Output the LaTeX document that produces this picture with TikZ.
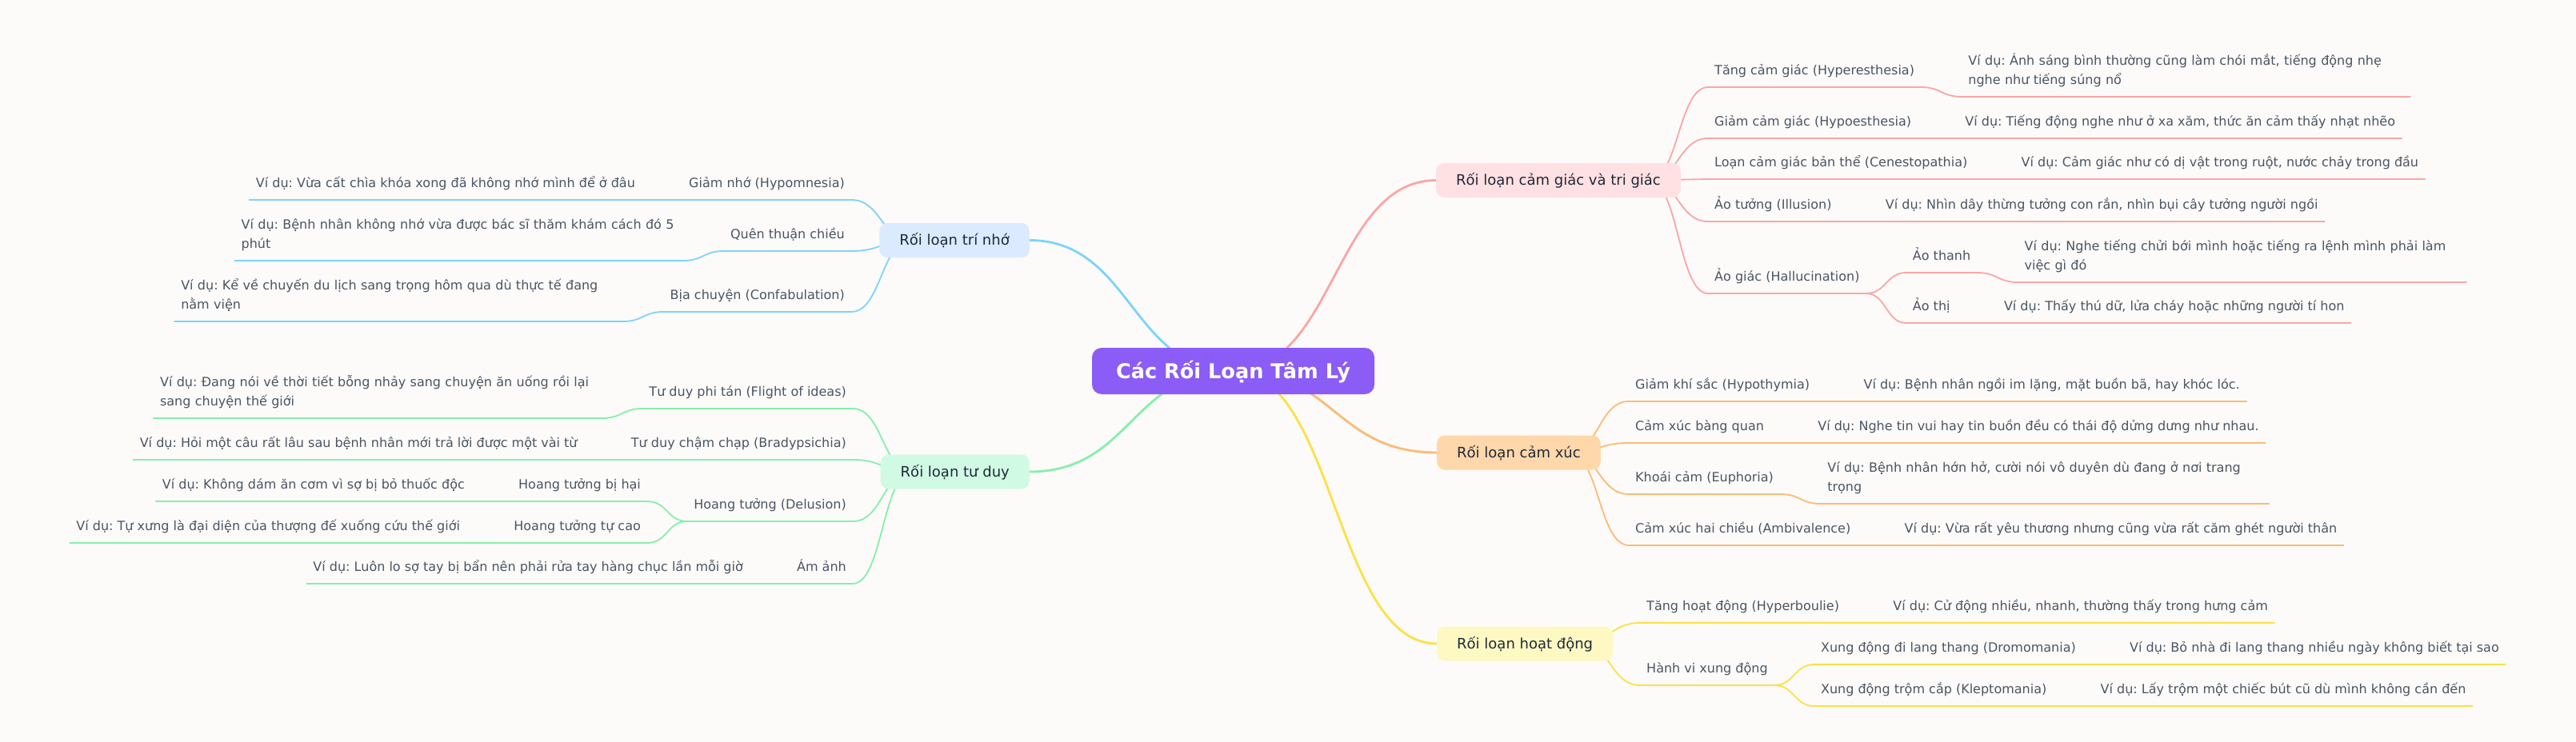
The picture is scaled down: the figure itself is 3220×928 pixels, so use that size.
\documentclass[tikz,border=0pt]{standalone}
\usepackage{fontspec}
\setmainfont{DejaVu Sans}
\usetikzlibrary{calc}
\frenchspacing
\definecolor{bgc}{HTML}{FCFBF9}
\definecolor{rootF}{HTML}{8B5CF6}
\definecolor{pinkF}{HTML}{FFE1E4}
\definecolor{pinkL}{HTML}{FCA5A5}
\definecolor{orF}{HTML}{FED7AA}
\definecolor{orL}{HTML}{FDBA74}
\definecolor{yeF}{HTML}{FEF9C3}
\definecolor{yeL}{HTML}{FDE047}
\definecolor{blF}{HTML}{DBEAFE}
\definecolor{blL}{HTML}{7DD3FC}
\definecolor{grF}{HTML}{D1FAE5}
\definecolor{grL}{HTML}{86EFAC}
\definecolor{darkT}{HTML}{1F2937}
\definecolor{leafT}{HTML}{4B5563}
\pgfdeclarelayer{bg}
\pgfdeclarelayer{lines}
\pgfsetlayers{bg,lines,main}
\newcommand\leaffont{\frenchspacing\fontsize{16}{24}\selectfont}
\newcommand\branchfont{\fontsize{18}{22}\selectfont}
\newcommand\titlefont{\bfseries\fontsize{25.6}{30}\selectfont}
\newcommand\mylk[3]{\draw[ln,#1] (#2) to[hlink] (#3);}
\newcommand\myun[2]{\draw[ln,#1] (#2.south west) -- (#2.south east);}
\begin{document}
\begin{tikzpicture}[x=1pt,y=-1pt,
  hlink/.style={to path={let \p1=(\tikztostart), \p2=(\tikztotarget) in
     .. controls ({(\x1+\x2)/2},\y1) and ({(\x1+\x2)/2},\y2) .. (\tikztotarget)}},
  rl/.style={line width=2.8pt, line cap=round},
  ln/.style={line width=1.8pt, line cap=round},
  rootbox/.style={rounded corners=12pt, fill=rootF, text=white, font=\titlefont,
     minimum height=58pt, inner xsep=30pt, inner ysep=0pt, text height=24pt, text depth=5.4pt},
  branch/.style={rounded corners=10pt, text=darkT, font=\branchfont,
     minimum height=43pt, inner xsep=25pt, inner ysep=0pt, text height=16pt, text depth=4pt},
  leaf/.style={inner xsep=8pt, inner ysep=0pt, text depth=15pt, text=leafT, font=\leaffont},
  leafR/.style={leaf, anchor=south west},
  leafL/.style={leaf, anchor=south east},
  two/.style={text width=544pt, text depth=39pt, align=left}
]
\begin{pgfonlayer}{bg}
\fill[bgc] (0,0) rectangle (3220,928);
\end{pgfonlayer}
\useasboundingbox (0,0) rectangle (3220,928);

% root
\node[rootbox] (root) at (1541.5,464) {Các Rối Loạn Tâm Lý};

% ---------- branch 1 ----------
\node[branch, fill=pinkF, anchor=west] (b1) at (1795,225.5) {Rối loạn cảm giác và tri giác};
\node[leafR] (c11) at (2135,109) {Tăng cảm giác (Hyperesthesia)};
\node[leafR,two] (e11) at ($(c11.south east)+(51,12)$) {Ví dụ: Ánh sáng bình thường cũng làm chói mắt, tiếng động nhẹ\\nghe như tiếng súng nổ};
\node[leafR] (c12) at (2135,173) {Giảm cảm giác (Hypoesthesia)};
\node[leafR] (e12) at ($(c12.south east)+(51,0)$) {Ví dụ: Tiếng động nghe như ở xa xăm, thức ăn cảm thấy nhạt nhẽo};
\node[leafR] (c13) at (2135,224) {Loạn cảm giác bản thể (Cenestopathia)};
\node[leafR] (e13) at ($(c13.south east)+(51,0)$) {Ví dụ: Cảm giác như có dị vật trong ruột, nước chảy trong đầu};
\node[leafR] (c14) at (2135,277) {Ảo tưởng (Illusion)};
\node[leafR] (e14) at ($(c14.south east)+(51,0)$) {Ví dụ: Nhìn dây thừng tưởng con rắn, nhìn bụi cây tưởng người ngồi};
\node[leafR] (c15) at (2135,367) {Ảo giác (Hallucination)};
\node[leafR] (c151) at ($(c15.south east)+(50,-26)$) {Ảo thanh};
\node[leafR,two] (e151) at ($(c151.south east)+(51,12)$) {Ví dụ: Nghe tiếng chửi bới mình hoặc tiếng ra lệnh mình phải làm\\việc gì đó};
\node[leafR] (c152) at ($(c15.south east)+(50,37)$) {Ảo thị};
\node[leafR] (e152) at ($(c152.south east)+(51,0)$) {Ví dụ: Thấy thú dữ, lửa cháy hoặc những người tí hon};

% ---------- branch 2 ----------
\node[branch, fill=orF, anchor=west] (b2) at (1796,566) {Rối loạn cảm xúc};
\node[leafR] (c21) at (2036,502) {Giảm khí sắc (Hypothymia)};
\node[leafR] (e21) at ($(c21.south east)+(51,0)$) {Ví dụ: Bệnh nhân ngồi im lặng, mặt buồn bã, hay khóc lóc.};
\node[leafR] (c22) at (2036,554) {Cảm xúc bàng quan};
\node[leafR] (e22) at ($(c22.south east)+(51,0)$) {Ví dụ: Nghe tin vui hay tin buồn đều có thái độ dửng dưng như nhau.};
\node[leafR] (c23) at (2036,618) {Khoái cảm (Euphoria)};
\node[leafR,two] (e23) at ($(c23.south east)+(51,12)$) {Ví dụ: Bệnh nhân hớn hở, cười nói vô duyên dù đang ở nơi trang\\trọng};
\node[leafR] (c24) at (2036,682) {Cảm xúc hai chiều (Ambivalence)};
\node[leafR] (e24) at ($(c24.south east)+(51,0)$) {Ví dụ: Vừa rất yêu thương nhưng cũng vừa rất căm ghét người thân};

% ---------- branch 3 ----------
\node[branch, fill=yeF, anchor=west] (b3) at (1796,805) {Rối loạn hoạt động};
\node[leafR] (c31) at (2050,779) {Tăng hoạt động (Hyperboulie)};
\node[leafR] (e31) at ($(c31.south east)+(51,0)$) {Ví dụ: Cử động nhiều, nhanh, thường thấy trong hưng cảm};
\node[leafR] (c32) at (2050,857) {Hành vi xung động};
\node[leafR] (c321) at ($(c32.south east)+(50,-26)$) {Xung động đi lang thang (Dromomania)};
\node[leafR] (e321) at ($(c321.south east)+(51,0)$) {Ví dụ: Bỏ nhà đi lang thang nhiều ngày không biết tại sao};
\node[leafR] (c322) at ($(c32.south east)+(50,26)$) {Xung động trộm cắp (Kleptomania)};
\node[leafR] (e322) at ($(c322.south east)+(51,0)$) {Ví dụ: Lấy trộm một chiếc bút cũ dù mình không cần đến};

% ---------- branch 4 ----------
\node[branch, fill=blF, anchor=east] (b4) at (1287,300.5) {Rối loạn trí nhớ};
\node[leafL] (c41) at (1064,250) {Giảm nhớ (Hypomnesia)};
\node[leafL] (e41) at ($(c41.south west)+(-51,0)$) {Ví dụ: Vừa cất chìa khóa xong đã không nhớ mình để ở đâu};
\node[leafL] (c42) at (1064,314) {Quên thuận chiều};
\node[leafL,two] (e42) at ($(c42.south west)+(-51,12)$) {Ví dụ: Bệnh nhân không nhớ vừa được bác sĩ thăm khám cách đó 5\\phút};
\node[leafL] (c43) at (1064,390) {Bịa chuyện (Confabulation)};
\node[leafL,two] (e43) at ($(c43.south west)+(-51,12)$) {Ví dụ: Kể về chuyến du lịch sang trọng hôm qua dù thực tế đang\\nằm viện};

% ---------- branch 5 ----------
\node[branch, fill=grF, anchor=east] (b5) at (1287,590) {Rối loạn tư duy};
\node[leafL] (c51) at (1066,511) {Tư duy phi tán (Flight of ideas)};
\node[leafL,two] (e51) at ($(c51.south west)+(-51,12)$) {Ví dụ: Đang nói về thời tiết bỗng nhảy sang chuyện ăn uống rồi lại\\sang chuyện thế giới};
\node[leafL] (c52) at (1066,575) {Tư duy chậm chạp (Bradypsichia)};
\node[leafL] (e52) at ($(c52.south west)+(-51,0)$) {Ví dụ: Hỏi một câu rất lâu sau bệnh nhân mới trả lời được một vài từ};
\node[leafL] (c53) at (1066,652) {Hoang tưởng (Delusion)};
\node[leafL] (c531) at ($(c53.south west)+(-50,-25)$) {Hoang tưởng bị hại};
\node[leafL] (e531) at ($(c531.south west)+(-51,0)$) {Ví dụ: Không dám ăn cơm vì sợ bị bỏ thuốc độc};
\node[leafL] (c532) at ($(c53.south west)+(-50,27)$) {Hoang tưởng tự cao};
\node[leafL] (e532) at ($(c532.south west)+(-51,0)$) {Ví dụ: Tự xưng là đại diện của thượng đế xuống cứu thế giới};
\node[leafL] (c54) at (1066,730) {Ám ảnh};
\node[leafL] (e54) at ($(c54.south west)+(-51,0)$) {Ví dụ: Luôn lo sợ tay bị bẩn nên phải rửa tay hàng chục lần mỗi giờ};

\coordinate (b1o) at ($(b1.east)+(-40,0)$);
\coordinate (b2o) at ($(b2.east)+(-40,0)$);
\coordinate (b3o) at ($(b3.east)+(-40,0)$);
\coordinate (b4o) at ($(b4.west)+(40,0)$);
\coordinate (b5o) at ($(b5.west)+(40,0)$);

\begin{pgfonlayer}{lines}
% root links
\draw[rl,pinkL] (root.center) to[hlink] (b1.west);
\draw[rl,orL] (root.center) to[hlink] (b2.west);
\draw[rl,yeL] (root.center) to[hlink] (b3.west);
\draw[rl,blL] (root.center) to[hlink] (b4.east);
\draw[rl,grL] (root.center) to[hlink] (b5.east);
% branch 1
\mylk{pinkL}{b1o}{c11.south west}\mylk{pinkL}{b1o}{c12.south west}
\mylk{pinkL}{b1o}{c13.south west}\mylk{pinkL}{b1o}{c14.south west}
\mylk{pinkL}{b1o}{c15.south west}
\mylk{pinkL}{c11.south east}{e11.south west}
\mylk{pinkL}{c12.south east}{e12.south west}
\mylk{pinkL}{c13.south east}{e13.south west}
\mylk{pinkL}{c14.south east}{e14.south west}
\mylk{pinkL}{c15.south east}{c151.south west}
\mylk{pinkL}{c15.south east}{c152.south west}
\mylk{pinkL}{c151.south east}{e151.south west}
\mylk{pinkL}{c152.south east}{e152.south west}
\myun{pinkL}{c11}\myun{pinkL}{e11}\myun{pinkL}{c12}\myun{pinkL}{e12}
\myun{pinkL}{c13}\myun{pinkL}{e13}\myun{pinkL}{c14}\myun{pinkL}{e14}
\myun{pinkL}{c15}\myun{pinkL}{c151}\myun{pinkL}{e151}\myun{pinkL}{c152}\myun{pinkL}{e152}
% branch 2
\mylk{orL}{b2o}{c21.south west}\mylk{orL}{b2o}{c22.south west}
\mylk{orL}{b2o}{c23.south west}\mylk{orL}{b2o}{c24.south west}
\mylk{orL}{c21.south east}{e21.south west}
\mylk{orL}{c22.south east}{e22.south west}
\mylk{orL}{c23.south east}{e23.south west}
\mylk{orL}{c24.south east}{e24.south west}
\myun{orL}{c21}\myun{orL}{e21}\myun{orL}{c22}\myun{orL}{e22}
\myun{orL}{c23}\myun{orL}{e23}\myun{orL}{c24}\myun{orL}{e24}
% branch 3
\mylk{yeL}{b3o}{c31.south west}\mylk{yeL}{b3o}{c32.south west}
\mylk{yeL}{c31.south east}{e31.south west}
\mylk{yeL}{c32.south east}{c321.south west}
\mylk{yeL}{c32.south east}{c322.south west}
\mylk{yeL}{c321.south east}{e321.south west}
\mylk{yeL}{c322.south east}{e322.south west}
\myun{yeL}{c31}\myun{yeL}{e31}\myun{yeL}{c32}\myun{yeL}{c321}\myun{yeL}{e321}
\myun{yeL}{c322}\myun{yeL}{e322}
% branch 4
\mylk{blL}{b4o}{c41.south east}\mylk{blL}{b4o}{c42.south east}
\mylk{blL}{b4o}{c43.south east}
\mylk{blL}{c41.south west}{e41.south east}
\mylk{blL}{c42.south west}{e42.south east}
\mylk{blL}{c43.south west}{e43.south east}
\myun{blL}{c41}\myun{blL}{e41}\myun{blL}{c42}\myun{blL}{e42}\myun{blL}{c43}\myun{blL}{e43}
% branch 5
\mylk{grL}{b5o}{c51.south east}\mylk{grL}{b5o}{c52.south east}
\mylk{grL}{b5o}{c53.south east}\mylk{grL}{b5o}{c54.south east}
\mylk{grL}{c51.south west}{e51.south east}
\mylk{grL}{c52.south west}{e52.south east}
\mylk{grL}{c53.south west}{c531.south east}
\mylk{grL}{c53.south west}{c532.south east}
\mylk{grL}{c531.south west}{e531.south east}
\mylk{grL}{c532.south west}{e532.south east}
\mylk{grL}{c54.south west}{e54.south east}
\myun{grL}{c51}\myun{grL}{e51}\myun{grL}{c52}\myun{grL}{e52}\myun{grL}{c53}
\myun{grL}{c531}\myun{grL}{e531}\myun{grL}{c532}\myun{grL}{e532}\myun{grL}{c54}\myun{grL}{e54}
\end{pgfonlayer}
\end{tikzpicture}
\end{document}
